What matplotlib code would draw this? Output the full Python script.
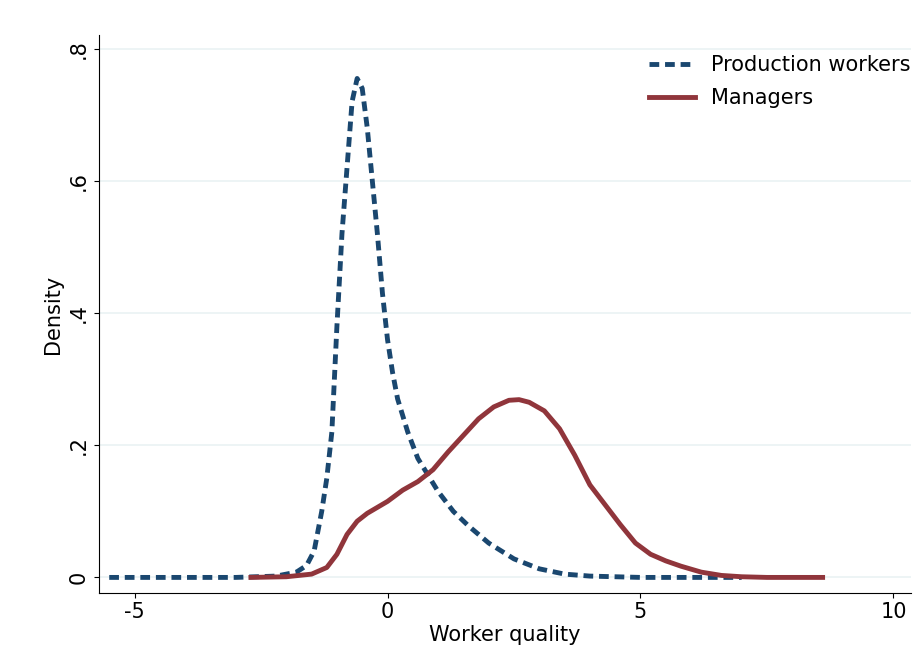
import matplotlib.pyplot as plt

prod_x = [-5.5, -4, -3, -2.2, -1.8, -1.6, -1.45, -1.3, -1.2, -1.1, -1.0, -0.9, -0.8, -0.7, -0.6, -0.5, -0.4, -0.3, -0.2, -0.1, 0.0, 0.1, 0.2, 0.4, 0.6, 0.8, 1.0, 1.3, 1.6, 2.0, 2.5, 3.0, 3.5, 4.0, 4.5, 5.0, 6.0, 7.0]
prod_y = [0, 0, 0, 0.002, 0.008, 0.018, 0.04, 0.1, 0.15, 0.22, 0.38, 0.52, 0.62, 0.72, 0.755, 0.74, 0.68, 0.6, 0.52, 0.43, 0.36, 0.31, 0.27, 0.22, 0.18, 0.155, 0.13, 0.1, 0.078, 0.052, 0.028, 0.013, 0.005, 0.002, 0.001, 0, 0, 0]

mgr_x = [-2.7, -2.0, -1.5, -1.2, -1.0, -0.8, -0.6, -0.4, -0.2, 0.0, 0.3, 0.6, 0.9, 1.2, 1.5, 1.8, 2.1, 2.4, 2.6, 2.8, 3.1, 3.4, 3.7, 4.0, 4.3, 4.6, 4.9, 5.2, 5.5, 5.8, 6.2, 6.6, 7.0, 7.5, 8.6]
mgr_y = [0, 0.001, 0.005, 0.015, 0.035, 0.065, 0.085, 0.097, 0.106, 0.115, 0.132, 0.145, 0.163, 0.19, 0.215, 0.24, 0.258, 0.268, 0.269, 0.265, 0.252, 0.225, 0.185, 0.14, 0.11, 0.08, 0.052, 0.035, 0.025, 0.017, 0.008, 0.003, 0.001, 0, 0]

fig = plt.figure(figsize=(9.13, 6.57), dpi=100)
ax = fig.add_axes([0.108, 0.098, 0.89, 0.848])
for v in [0, 0.2, 0.4, 0.6, 0.8]:
    ax.axhline(v, color='#eaf2f3', lw=1.2, zorder=0)
ax.plot(prod_x, prod_y, color='#1a476f', lw=3.5, ls=(0, (2, 1.2)), label='Production workers')
ax.plot(mgr_x, mgr_y, color='#90353b', lw=3.5, label='Managers')
ax.set_xlim(-5.71, 10.35)
ax.set_ylim(-0.023, 0.82)
ax.set_xticks([-5, 0, 5, 10])
ax.set_xticklabels(['-5', '0', '5', '10'])
ax.set_yticks([0, 0.2, 0.4, 0.6, 0.8])
ax.set_yticklabels(['0', '.2', '.4', '.6', '.8'], rotation=90, va='center')
ax.tick_params(labelsize=15)
ax.spines['top'].set_visible(False)
ax.spines['right'].set_visible(False)
ax.set_xlabel('Worker quality', fontsize=15, labelpad=2)
ax.set_ylabel('Density', fontsize=15)
ax.legend(loc='upper right', frameon=False, fontsize=15, handlelength=2.2, borderaxespad=0.0,
          labelspacing=0.65, bbox_to_anchor=(1.01, 0.98))
fig.savefig('out.png')
